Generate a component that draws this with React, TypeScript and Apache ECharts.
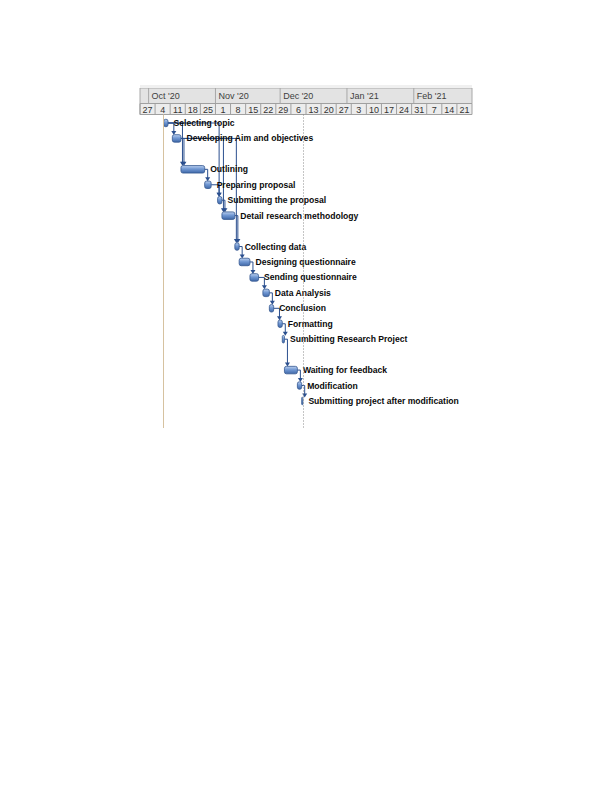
import React, { useEffect, useRef } from "react";
import * as echarts from "echarts";

// ---- timeline (header) ----
const timelineStart = "2020-09-27T00:00";
const timelineEnd = "2021-02-28T00:00";
const monthLabels = ["Oct '20", "Nov '20", "Dec '20", "Jan '21", "Feb '21"];
const monthStarts = ["2020-10-01T00:00", "2020-11-01T00:00", "2020-12-01T00:00", "2021-01-01T00:00", "2021-02-01T00:00"];
const weekLabels = ["27", "4", "11", "18", "25", "1", "8", "15", "22", "29", "6", "13", "20", "27", "3", "10", "17", "24", "31", "7", "14", "21"];

// ---- tasks (one entry per row; empty rows have no bar) ----
const taskNames = [
  "Selecting topic",
  "Developing Aim and objectives",
  "",
  "Outlining",
  "Preparing proposal",
  "Submitting the proposal",
  "Detail research methodology",
  "",
  "Collecting data",
  "Designing questionnaire",
  "Sending questionnaire",
  "Data Analysis",
  "Conclusion",
  "Formatting",
  "Sumbitting Research Project",
  "",
  "Waiting for feedback",
  "Modification",
  "Submitting project after modification",
];
const taskStarts = [
  "2020-10-08T00:00", "2020-10-12T00:00", null, "2020-10-16T00:00", "2020-10-27T00:00",
  "2020-11-02T00:00", "2020-11-04T00:00", null, "2020-11-10T00:00", "2020-11-12T00:00",
  "2020-11-17T00:00", "2020-11-23T00:00", "2020-11-26T00:00", "2020-11-30T00:00",
  "2020-12-02T00:00", null, "2020-12-03T00:00", "2020-12-09T00:00", "2020-12-11T00:00",
];
const taskEnds = [
  "2020-10-10T00:00", "2020-10-16T00:00", null, "2020-10-27T00:00", "2020-10-30T00:00",
  "2020-11-04T00:00", "2020-11-10T00:00", null, "2020-11-12T00:00", "2020-11-17T00:00",
  "2020-11-21T00:00", "2020-11-26T00:00", "2020-11-28T00:00", "2020-12-02T00:00",
  "2020-12-03T00:00", null, "2020-12-09T00:00", "2020-12-11T00:00", "2020-12-11T12:00",
];
// finish-to-start links [predecessor row, successor row]
const links = [
  [0, 1], [0, 3], [1, 3], [3, 4], [4, 5], [0, 5], [5, 6], [1, 6], [6, 8], [1, 8],
  [8, 9], [9, 10], [10, 11], [11, 12], [12, 13], [13, 14], [14, 16], [16, 17], [17, 18],
];
const projectStartLine = "2020-10-07T16:00";
const statusDateLine = "2020-12-11T12:00";

const DAY = 86400000;
const t = (s: string) => new Date(s).getTime();

export default function App() {
  const ref = useRef<HTMLDivElement>(null);
  useEffect(() => {
    if (!ref.current) return;
    const chart = echarts.init(ref.current, null, { renderer: "svg" });
    const tMin = t(timelineStart);
    const tMax = t(timelineEnd);

    const monthData = monthStarts.map((m, i) => [t(m), monthLabels[i]]);
    const weekData = weekLabels.map((w, i) => [tMin + i * 7 * DAY, w]);
    const taskData: any[] = [];
    taskNames.forEach((n, i) => {
      if (taskStarts[i] && taskEnds[i]) taskData.push([t(taskStarts[i] as string), t(taskEnds[i] as string), i, n]);
    });
    const linkData = links.map(([a, b]) => [t(taskEnds[a] as string), a, t(taskStarts[b] as string), b]);

    const xBase = { type: "time", min: tMin, max: tMax, show: false };
    const barFill = new echarts.graphic.LinearGradient(0, 0, 0, 1, [
      { offset: 0, color: "#bcd0ef" },
      { offset: 0.45, color: "#7198d3" },
      { offset: 1, color: "#3f68a8" },
    ]);
    const font = "Liberation Sans";

    chart.setOption({
      animation: false,
      graphic: [
        { type: "rect", shape: { x: 140, y: 85, width: 332, height: 3 }, style: { fill: "#f0f0f0" } },
      ],
      grid: [
        { left: 140, top: 88, width: 332, height: 15.5, show: true, backgroundColor: "#e3e3e3", borderColor: "#a8a8a8", borderWidth: 1 },
        { left: 140, top: 103.5, width: 332, height: 11, show: true, backgroundColor: "#ececec", borderColor: "#a0a0a0", borderWidth: 1 },
        { left: 140, top: 114.5, width: 332, height: 313.5, show: false },
      ],
      xAxis: [
        { ...xBase, gridIndex: 0 },
        { ...xBase, gridIndex: 1 },
        { ...xBase, gridIndex: 2 },
      ],
      yAxis: [
        { type: "value", min: 0, max: 1, show: false, gridIndex: 0 },
        { type: "value", min: 0, max: 1, show: false, gridIndex: 1 },
        { type: "value", min: -0.55, max: 19.75, inverse: true, show: false, gridIndex: 2 },
      ],
      series: [
        {
          type: "custom",
          xAxisIndex: 0,
          yAxisIndex: 0,
          data: monthData,
          encode: { x: 0 },
          renderItem: (params: any, api: any) => {
            const cs = params.coordSys;
            const p = api.coord([api.value(0), 0.5]);
            return {
              type: "group",
              children: [
                { type: "line", shape: { x1: p[0], y1: cs.y, x2: p[0], y2: cs.y + cs.height }, style: { stroke: "#a8a8a8", lineWidth: 1 } },
                { type: "text", x: p[0] + 3, y: p[1] + 0.5, style: { text: monthLabels[params.dataIndex], fill: "#404040", fontSize: 9, fontFamily: font, align: "left", verticalAlign: "middle" } },
              ],
            };
          },
        },
        {
          type: "custom",
          xAxisIndex: 1,
          yAxisIndex: 1,
          data: weekData,
          encode: { x: 0 },
          renderItem: (params: any, api: any) => {
            const cs = params.coordSys;
            const p = api.coord([api.value(0), 0.5]);
            const c = api.coord([api.value(0) + 3.5 * DAY, 0.5]);
            return {
              type: "group",
              children: [
                { type: "line", shape: { x1: p[0], y1: cs.y, x2: p[0], y2: cs.y + cs.height }, style: { stroke: "#a0a0a0", lineWidth: 1 } },
                { type: "text", x: c[0], y: c[1] + 0.5, style: { text: weekLabels[params.dataIndex], fill: "#333333", fontSize: 9, fontFamily: font, align: "center", verticalAlign: "middle" } },
              ],
            };
          },
        },
        {
          type: "custom",
          xAxisIndex: 2,
          yAxisIndex: 2,
          z: 2,
          data: linkData,
          encode: { x: [0, 2], y: [1, 3] },
          renderItem: (params: any, api: any) => {
            const p = api.coord([api.value(0), api.value(1)]);
            const q = api.coord([api.value(2), api.value(3)]);
            const vx = Math.max(p[0] + 3, q[0] + 1.5);
            const yTip = q[1] - 3.5;
            return {
              type: "group",
              children: [
                { type: "polyline", shape: { points: [[p[0], p[1]], [vx, p[1]], [vx, yTip - 3]] }, style: { stroke: "#2b4f8e", lineWidth: 1, fill: null } },
                { type: "polygon", shape: { points: [[vx - 2.5, yTip - 4], [vx + 2.5, yTip - 4], [vx, yTip]] }, style: { fill: "#2b4f8e" } },
              ],
            };
          },
        },
        {
          type: "custom",
          xAxisIndex: 2,
          yAxisIndex: 2,
          z: 3,
          data: taskData,
          encode: { x: [0, 1], y: 2 },
          renderItem: (params: any, api: any) => {
            const s = api.coord([api.value(0), api.value(2)]);
            const e = api.coord([api.value(1), api.value(2)]);
            const h = 7.5;
            const w = Math.max(e[0] - s[0], 1.2);
            const name = taskData[params.dataIndex][3];
            return {
              type: "group",
              children: [
                { type: "rect", shape: { x: s[0], y: s[1] - h / 2, width: w, height: h, r: Math.min(2, w / 2) }, style: { fill: barFill, stroke: "#34578f", lineWidth: 0.8 } },
                { type: "text", x: s[0] + w + 5.5, y: s[1], style: { text: name, fill: "#0a0a0a", fontSize: 8.6, fontWeight: "bold", fontFamily: font, align: "left", verticalAlign: "middle" } },
              ],
            };
          },
        },
        {
          type: "line",
          xAxisIndex: 2,
          yAxisIndex: 2,
          data: [],
          z: 1,
          markLine: {
            silent: true,
            symbol: "none",
            label: { show: false },
            data: [
              { xAxis: t(projectStartLine), lineStyle: { color: "#d6c2a0", width: 1, type: "solid" } },
              { xAxis: t(statusDateLine), lineStyle: { color: "#8a8a8a", width: 1, type: [1, 2] } },
            ],
          },
        },
      ],
    });
    return () => chart.dispose();
  }, []);
  return <div ref={ref} style={{ position: "absolute", left: 0, top: 0, width: 612, height: 792 }} />;
}
